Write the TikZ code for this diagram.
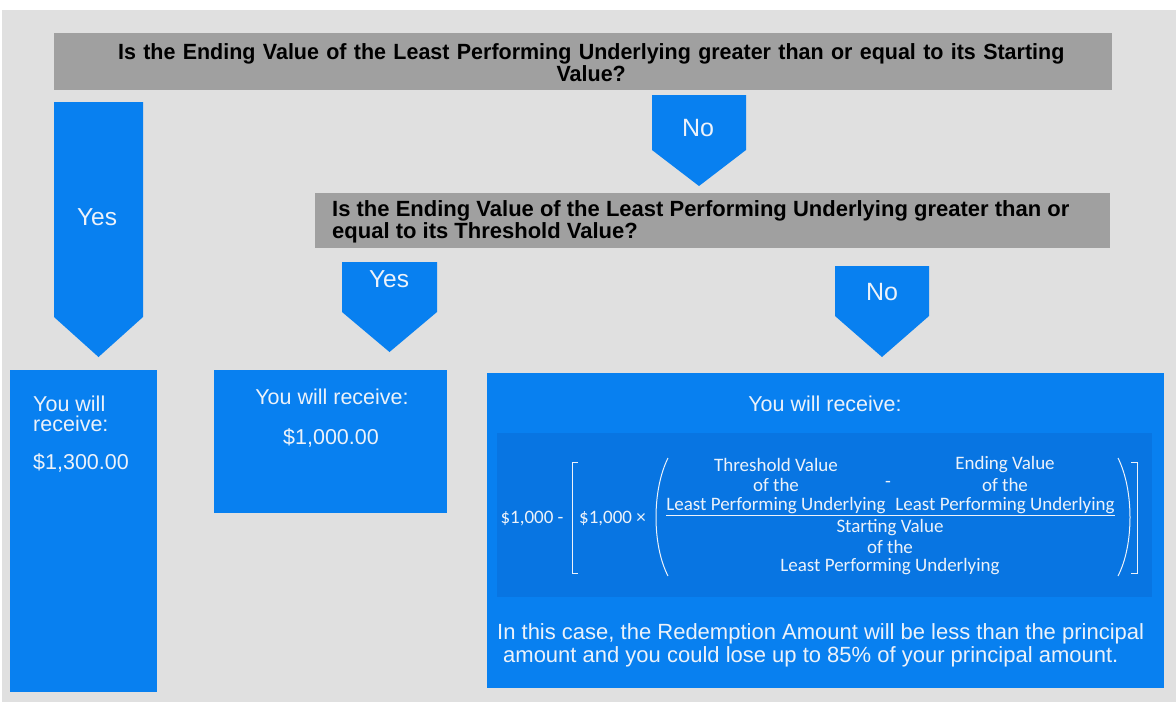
\documentclass[tikz,border=0pt]{standalone}
\usepackage{fontspec}
\setmainfont{Liberation Sans}
\newfontfamily\qfonta[FakeStretch=0.976]{Liberation Sans}
\newfontfamily\qfontb[FakeStretch=1.0]{Liberation Sans}
\newfontfamily\calfont{Carlito}
\definecolor{bgray}{RGB}{224,224,224}
\definecolor{qgray}{RGB}{160,160,160}
\definecolor{blu}{RGB}{8,128,240}
\definecolor{blud}{RGB}{8,117,226}
\definecolor{txt}{RGB}{236,242,250}
\tikzset{
  qbox/.style={fill=qgray, anchor=north west, inner sep=0pt},
  qtext/.style={text=black, inner sep=0pt},
  bbox/.style={fill=blu, anchor=north west, inner sep=0pt},
  arrowshape/.style={fill=blu},
  lbl/.style={font=\fontsize{24.5}{26}\selectfont, text=txt, inner sep=0pt},
  btext/.style={font=\fontsize{21.5}{19.5}\selectfont, text=txt, inner sep=0pt},
  ftext/.style={font=\calfont\fontsize{19}{20}\selectfont, text=txt, inner sep=0pt, align=center},
  fline/.style={draw=txt, line width=1pt}
}
\begin{document}
\begin{tikzpicture}[x=1pt,y=-1pt]
\useasboundingbox (0,0) rectangle (1176,702);
\fill[white] (0,0) rectangle (1176,702);
\fill[bgray] (2,10) rectangle (1176,702);

% question 1
\node[qbox, minimum width=1058pt, minimum height=57pt] (q1) at (54,33) {};
\node[qtext, font=\qfonta\bfseries\fontsize{22}{17}\selectfont, align=center, text width=1040pt] (q1t) at ([xshift=8pt,yshift=-1pt]q1.center) {Is the Ending Value of the Least Performing Underlying greater than or equal to its Starting\\Value?};

% left Yes arrow
\fill[arrowshape] (54,102) -- (143,102) -- (143,317) -- (98.5,357) -- (54,317) -- cycle;
\node[lbl] (yes1) at (97,217) {Yes};

% top No arrow
\fill[arrowshape] (652,95) -- (746,95) -- (746,150) -- (699,186) -- (652,150) -- cycle;
\node[lbl, font=\fontsize{25}{26}\selectfont] (no1) at (698,128) {No};

% question 2
\node[qbox, minimum width=795pt, minimum height=55pt] (q2) at (315,193) {};
\node[qtext, font=\qfontb\bfseries\fontsize{22}{17}\selectfont, align=left, anchor=west] (q2t) at ([xshift=17pt,yshift=-1pt]q2.west) {Is the Ending Value of the Least Performing Underlying greater than or\\equal to its Threshold Value?};

% Yes arrow 2
\fill[arrowshape] (342,262) -- (437,262) -- (437,312) -- (389.5,352) -- (342,312) -- cycle;
\node[lbl] (yes2) at (389,279) {Yes};

% No arrow 2
\fill[arrowshape] (835,266) -- (929,266) -- (929,316) -- (882,357) -- (835,316) -- cycle;
\node[lbl, font=\fontsize{25}{26}\selectfont] (no2) at (882,292) {No};

% result box 1
\node[bbox, minimum width=147pt, minimum height=322pt] (r1) at (10,370) {};
\node[btext, anchor=north west, align=left] (r1a) at (33,396) {You will\\receive:};
\node[btext, anchor=west] (r1b) at (33,463) {\$1,300.00};

% result box 2
\node[bbox, minimum width=233pt, minimum height=143pt] (r2) at (214,370) {};
\node[btext] (r2a) at (332,397) {You will receive:};
\node[btext] (r2b) at (331,438) {\$1,000.00};

% result box 3
\node[bbox, minimum width=677pt, minimum height=315pt] (r3) at (487,373) {};
\node[btext] (r3a) at (825,404) {You will receive:};
\node[fill=blud, anchor=north west, inner sep=0pt, minimum width=655pt, minimum height=164pt] (fb) at (497,433) {};

% formula
\node[ftext] (f1) at (532,519) {\$1,000 -};
\draw[fline] (578,462) -- (572,462) -- (572,573) -- (578,573);
\node[ftext, anchor=west] (f2) at (579,519) {\$1,000 ×};
\draw[fline] (668,458) .. controls (652,490) and (652,545) .. (668,576);
\node[ftext] (n1a) at (776,465) {Threshold Value};
\node[ftext] (n1b) at (776,485) {of the};
\node[ftext] (n1c) at (776,506) {Least Performing Underlying};
\node[ftext] (minus) at (888,484) {-};
\node[ftext] (n2a) at (1005,465) {Ending Value};
\node[ftext] (n2b) at (1005,485) {of the};
\node[ftext] (n2c) at (1005,506) {Least Performing Underlying};
\draw[fline] (n1c.west |- 0,515) -- (n2c.east |- 0,515);
\node[ftext] (d1) at (890,528) {Starting Value};
\node[ftext] (d2) at (890,547) {of the};
\node[ftext] (d3) at (890,567) {Least Performing Underlying};
\draw[fline] (1118,458) .. controls (1134,490) and (1134,545) .. (1118,576);
\draw[fline] (1131,462) -- (1137,462) -- (1137,573) -- (1131,573);

% bottom text
\node[btext, font=\fontsize{22}{22}\selectfont, anchor=west] (r3b) at (497,634) {In this case, the Redemption Amount will be less than the principal};
\node[btext, font=\fontsize{22}{22}\selectfont, anchor=west] (r3c) at (503,657) {amount and you could lose up to 85\% of your principal amount.};
\end{tikzpicture}
\end{document}
